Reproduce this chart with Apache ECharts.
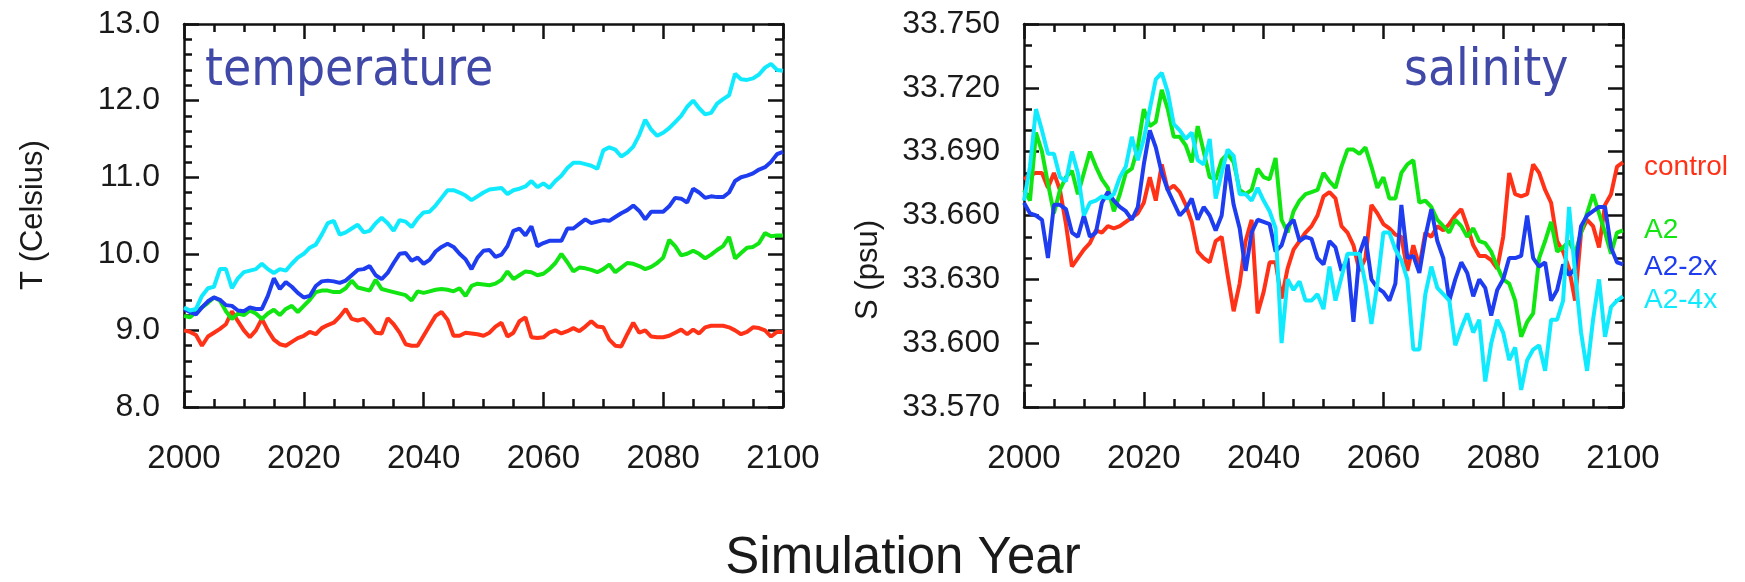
<!DOCTYPE html>
<html>
<head>
<meta charset="utf-8">
<script src="https://cdn.jsdelivr.net/npm/echarts@6/dist/echarts.min.js"></script>
<style>
html,body{margin:0;padding:0;background:#fff;}
#chart{width:1745px;height:582px;}
</style>
</head>
<body>
<div id="chart"></div>
<script>
// ---------------- DATA ----------------
const years = Array.from({length: 101}, (_, i) => 2000 + i);
const seriesNames = ['control', 'A2', 'A2-2x', 'A2-4x'];
const xTicks = [2000, 2020, 2040, 2060, 2080, 2100];
const tTicks = [8.0, 9.0, 10.0, 11.0, 12.0, 13.0];
const sTicks = [33.570, 33.600, 33.630, 33.660, 33.690, 33.720, 33.750];

// Temperature (Celsius)
const tControl = [
9.00,8.98,8.94,8.80,8.92,8.97,9.02,9.08,9.25,9.12,
9.00,8.91,9.00,9.15,9.00,8.88,8.82,8.80,8.85,8.90,
8.93,8.98,8.95,9.03,9.07,9.10,9.18,9.28,9.15,9.13,
9.15,9.07,8.97,8.96,9.16,9.08,8.97,8.82,8.80,8.80,
8.93,9.06,9.19,9.24,9.14,8.93,8.93,8.97,8.96,8.95,
8.93,8.97,9.05,9.10,8.92,8.97,9.12,9.17,8.91,8.90,
8.91,8.97,9.00,8.96,8.99,9.03,8.99,9.05,9.12,9.05,
9.04,8.88,8.80,8.79,8.95,9.10,8.97,9.00,8.92,8.91,
8.91,8.93,8.97,9.01,8.95,9.01,8.96,9.04,9.06,9.06,
9.06,9.04,9.00,8.95,8.98,9.04,9.03,9.00,8.92,8.98,8.98];
const tA2 = [
9.19,9.17,9.24,9.30,9.36,9.43,9.39,9.25,9.15,9.22,
9.20,9.26,9.22,9.15,9.22,9.27,9.20,9.28,9.32,9.24,
9.32,9.40,9.50,9.52,9.52,9.50,9.50,9.55,9.65,9.56,
9.54,9.52,9.66,9.54,9.52,9.50,9.48,9.46,9.39,9.51,
9.49,9.51,9.53,9.54,9.53,9.51,9.55,9.45,9.58,9.61,
9.60,9.59,9.61,9.66,9.77,9.67,9.72,9.77,9.76,9.72,
9.74,9.80,9.88,10.00,9.89,9.77,9.82,9.81,9.79,9.76,
9.80,9.86,9.76,9.82,9.88,9.87,9.84,9.80,9.83,9.88,
9.95,10.18,10.10,9.98,10.00,10.04,10.00,9.94,9.99,10.05,
10.10,10.22,9.94,10.01,10.08,10.09,10.14,10.27,10.23,10.24,10.24];
const tA2x2 = [
9.28,9.24,9.21,9.30,9.38,9.43,9.40,9.33,9.32,9.26,
9.25,9.30,9.28,9.28,9.45,9.68,9.54,9.63,9.57,9.49,
9.43,9.45,9.58,9.64,9.65,9.64,9.62,9.65,9.72,9.79,
9.80,9.84,9.72,9.67,9.75,9.88,10.00,10.01,9.91,9.95,
9.87,9.92,10.03,10.09,10.13,10.09,10.00,9.93,9.80,9.95,
10.04,10.05,9.96,9.99,10.10,10.30,10.33,10.24,10.36,10.10,
10.14,10.17,10.17,10.17,10.33,10.33,10.39,10.45,10.40,10.42,
10.44,10.43,10.48,10.53,10.57,10.63,10.56,10.45,10.55,10.55,
10.55,10.62,10.73,10.72,10.67,10.85,10.80,10.73,10.75,10.74,
10.74,10.80,10.95,11.00,11.02,11.05,11.10,11.13,11.20,11.30,11.33];
const tA2x4 = [
9.30,9.26,9.28,9.45,9.55,9.57,9.80,9.80,9.55,9.68,
9.76,9.78,9.80,9.87,9.80,9.75,9.80,9.78,9.87,9.95,
10.00,10.08,10.12,10.25,10.40,10.43,10.25,10.28,10.33,10.38,
10.28,10.30,10.40,10.47,10.40,10.30,10.44,10.42,10.35,10.46,
10.54,10.55,10.63,10.73,10.83,10.83,10.80,10.76,10.70,10.75,
10.80,10.84,10.85,10.86,10.78,10.83,10.85,10.88,10.95,10.87,
10.92,10.86,10.95,11.02,11.12,11.19,11.19,11.17,11.15,11.11,
11.35,11.39,11.36,11.27,11.32,11.40,11.55,11.75,11.62,11.54,
11.58,11.64,11.72,11.80,11.92,12.00,11.90,11.82,11.84,11.96,
12.02,12.07,12.35,12.28,12.27,12.29,12.34,12.43,12.48,12.40,12.39];

// Salinity (psu)
const sControl = [
33.677,33.679,33.680,33.680,33.673,33.680,33.672,33.656,33.636,33.640,
33.644,33.647,33.653,33.652,33.655,33.654,33.655,33.657,33.659,33.661,
33.666,33.678,33.667,33.684,33.672,33.674,33.671,33.665,33.657,33.643,
33.640,33.638,33.648,33.650,33.632,33.615,33.628,33.648,33.658,33.614,
33.624,33.638,33.638,33.621,33.635,33.644,33.648,33.652,33.655,33.660,
33.669,33.671,33.668,33.655,33.652,33.646,33.634,33.640,33.665,33.661,
33.656,33.654,33.651,33.650,33.634,33.646,33.636,33.652,33.650,33.655,
33.653,33.656,33.660,33.663,33.655,33.646,33.641,33.641,33.639,33.635,
33.650,33.680,33.670,33.669,33.670,33.684,33.680,33.672,33.666,33.648,
33.643,33.635,33.620,33.652,33.658,33.655,33.645,33.665,33.670,33.683,33.685];
const sA2 = [
33.672,33.667,33.699,33.690,33.675,33.661,33.672,33.678,33.681,33.670,
33.680,33.690,33.683,33.677,33.673,33.662,33.670,33.680,33.682,33.692,
33.710,33.702,33.704,33.719,33.710,33.697,33.697,33.693,33.685,33.702,
33.690,33.678,33.677,33.686,33.689,33.685,33.672,33.670,33.672,33.682,
33.678,33.677,33.687,33.658,33.652,33.662,33.667,33.670,33.671,33.672,
33.680,33.676,33.673,33.683,33.691,33.691,33.689,33.692,33.683,33.673,
33.678,33.668,33.668,33.680,33.684,33.686,33.666,33.667,33.664,33.658,
33.655,33.652,33.658,33.655,33.650,33.654,33.648,33.647,33.643,33.636,
33.630,33.628,33.620,33.603,33.610,33.614,33.640,33.648,33.657,33.643,
33.645,33.648,33.642,33.652,33.661,33.670,33.661,33.652,33.642,33.652,33.653];
const sA2x2 = [
33.666,33.661,33.660,33.658,33.640,33.665,33.665,33.663,33.652,33.650,
33.660,33.650,33.652,33.666,33.671,33.667,33.664,33.662,33.658,33.664,
33.684,33.700,33.692,33.680,33.672,33.666,33.660,33.663,33.668,33.658,
33.664,33.660,33.653,33.660,33.684,33.665,33.654,33.634,33.652,33.658,
33.657,33.656,33.643,33.646,33.655,33.658,33.648,33.650,33.649,33.640,
33.637,33.648,33.645,33.634,33.640,33.610,33.642,33.650,33.630,33.626,
33.624,33.620,33.628,33.665,33.640,33.641,33.633,33.650,33.663,33.648,
33.640,33.620,33.630,33.638,33.633,33.622,33.630,33.626,33.613,33.625,
33.630,33.640,33.640,33.641,33.660,33.640,33.636,33.638,33.620,33.625,
33.637,33.632,33.635,33.655,33.660,33.662,33.664,33.664,33.645,33.638,33.637];
const sA2x4 = [
33.667,33.683,33.710,33.700,33.689,33.689,33.678,33.676,33.690,33.680,
33.660,33.666,33.667,33.669,33.668,33.670,33.678,33.683,33.697,33.686,
33.696,33.710,33.724,33.727,33.718,33.703,33.700,33.696,33.699,33.686,
33.684,33.696,33.668,33.680,33.691,33.688,33.670,33.670,33.667,33.673,
33.667,33.662,33.654,33.600,33.630,33.625,33.629,33.620,33.620,33.623,
33.616,33.636,33.620,33.631,33.642,33.642,33.642,33.628,33.609,33.628,
33.652,33.652,33.644,33.639,33.630,33.597,33.597,33.623,33.636,33.626,
33.623,33.620,33.599,33.607,33.614,33.605,33.611,33.582,33.600,33.611,
33.605,33.592,33.598,33.578,33.592,33.597,33.599,33.587,33.611,33.611,
33.620,33.664,33.633,33.605,33.587,33.611,33.630,33.603,33.617,33.620,33.622];

// ---------------- STYLE ----------------
const colors = ['#ff3218', '#12e612', '#1e3cf0', '#10eaff'];
const titleColor = '#4048a8';
const labelFont = 'Liberation Sans, Arial, sans-serif';
const titleFont = '"DejaVu Sans Condensed", "DejaVu Sans", sans-serif';
const plotTop = 24, plotH = 383, plotW = 599;
const lefts = [184, 1024];

function pairs(vals) { return years.map((y, i) => [y, vals[i]]); }

function xAxes(gridIndex) {
  const base = {
    gridIndex, type: 'value', min: xTicks[0], max: xTicks[xTicks.length - 1], interval: 20,
    axisLine: {show: true, onZero: false, lineStyle: {color: '#111', width: 2.5}},
    axisTick: {show: true, inside: true, length: 15, lineStyle: {color: '#111', width: 2.5}},
    minorTick: {show: true, splitNumber: 4, length: 8, lineStyle: {color: '#111', width: 2.5}},
    splitLine: {show: false}, minorSplitLine: {show: false}
  };
  return [
    Object.assign({}, base, {position: 'bottom', axisLabel: {show: true, margin: 35, color: '#1a1a1a', fontSize: 33, fontFamily: labelFont, formatter: v => String(v)}}),
    Object.assign({}, base, {position: 'top', axisLabel: {show: false}})
  ];
}
function yAxes(gridIndex, ticks, interval, minorSplit, digits) {
  const base = {
    gridIndex, type: 'value', min: ticks[0], max: ticks[ticks.length - 1], interval,
    axisLine: {show: true, onZero: false, lineStyle: {color: '#111', width: 2.5}},
    axisTick: {show: true, inside: true, length: 15, lineStyle: {color: '#111', width: 2.5}},
    minorTick: {show: true, splitNumber: minorSplit, length: 8, lineStyle: {color: '#111', width: 2.5}},
    splitLine: {show: false}, minorSplitLine: {show: false}
  };
  return [
    Object.assign({}, base, {position: 'left', axisLabel: {show: true, margin: 24, color: '#1a1a1a', fontSize: 32, fontFamily: labelFont, formatter: v => Number(v).toFixed(digits)}}),
    Object.assign({}, base, {position: 'right', axisLabel: {show: false}})
  ];
}

const tempData = [tControl, tA2, tA2x2, tA2x4];
const salData = [sControl, sA2, sA2x2, sA2x4];
const series = [];
tempData.forEach((d, i) => series.push({
  name: seriesNames[i], type: 'line', xAxisIndex: 0, yAxisIndex: 0, data: pairs(d),
  showSymbol: false, symbol: 'none', lineStyle: {color: colors[i], width: 4}, itemStyle: {color: colors[i]},
  animation: false, z: 3 + i
}));
salData.forEach((d, i) => series.push({
  name: seriesNames[i], type: 'line', xAxisIndex: 2, yAxisIndex: 2, data: pairs(d),
  showSymbol: false, symbol: 'none', lineStyle: {color: colors[i], width: 4}, itemStyle: {color: colors[i]},
  animation: false, z: 3 + i
}));

const legendY = [167, 230, 267, 300];
const graphics = [
  {type: 'text', x: 205, y: 72, style: {text: 'temperature', fill: titleColor, font: '51px ' + titleFont, align: 'left', verticalAlign: 'middle'}},
  {type: 'text', x: 1404, y: 72, style: {text: 'salinity', fill: titleColor, font: '51px ' + titleFont, align: 'left', verticalAlign: 'middle'}},
  {type: 'text', x: 33, y: 215, rotation: Math.PI / 2, style: {text: 'T (Celsius)', fill: '#1a1a1a', font: '31px ' + labelFont, align: 'center', verticalAlign: 'middle'}},
  {type: 'text', x: 868, y: 270, rotation: Math.PI / 2, style: {text: 'S (psu)', fill: '#1a1a1a', font: '31px ' + labelFont, align: 'center', verticalAlign: 'middle'}},
  {type: 'text', x: 903, y: 559, style: {text: 'Simulation Year', fill: '#1a1a1a', font: '51px ' + labelFont, align: 'center', verticalAlign: 'middle'}}
];
seriesNames.forEach((n, i) => graphics.push({
  type: 'text', x: 1644, y: legendY[i],
  style: {text: n, fill: colors[i], font: '28px ' + labelFont, align: 'left', verticalAlign: 'middle'}
}));

const chart = echarts.init(document.getElementById('chart'), null, {renderer: 'canvas'});
chart.setOption({
  backgroundColor: '#ffffff',
  animation: false,
  grid: lefts.map(l => ({left: l, top: plotTop, width: plotW, height: plotH, containLabel: false, show: false})),
  xAxis: [...xAxes(0), ...xAxes(1)],
  yAxis: [...yAxes(0, tTicks, 1, 5, 1), ...yAxes(1, sTicks, 0.03, 3, 3)],
  series,
  graphic: graphics
});
</script>
</body>
</html>
